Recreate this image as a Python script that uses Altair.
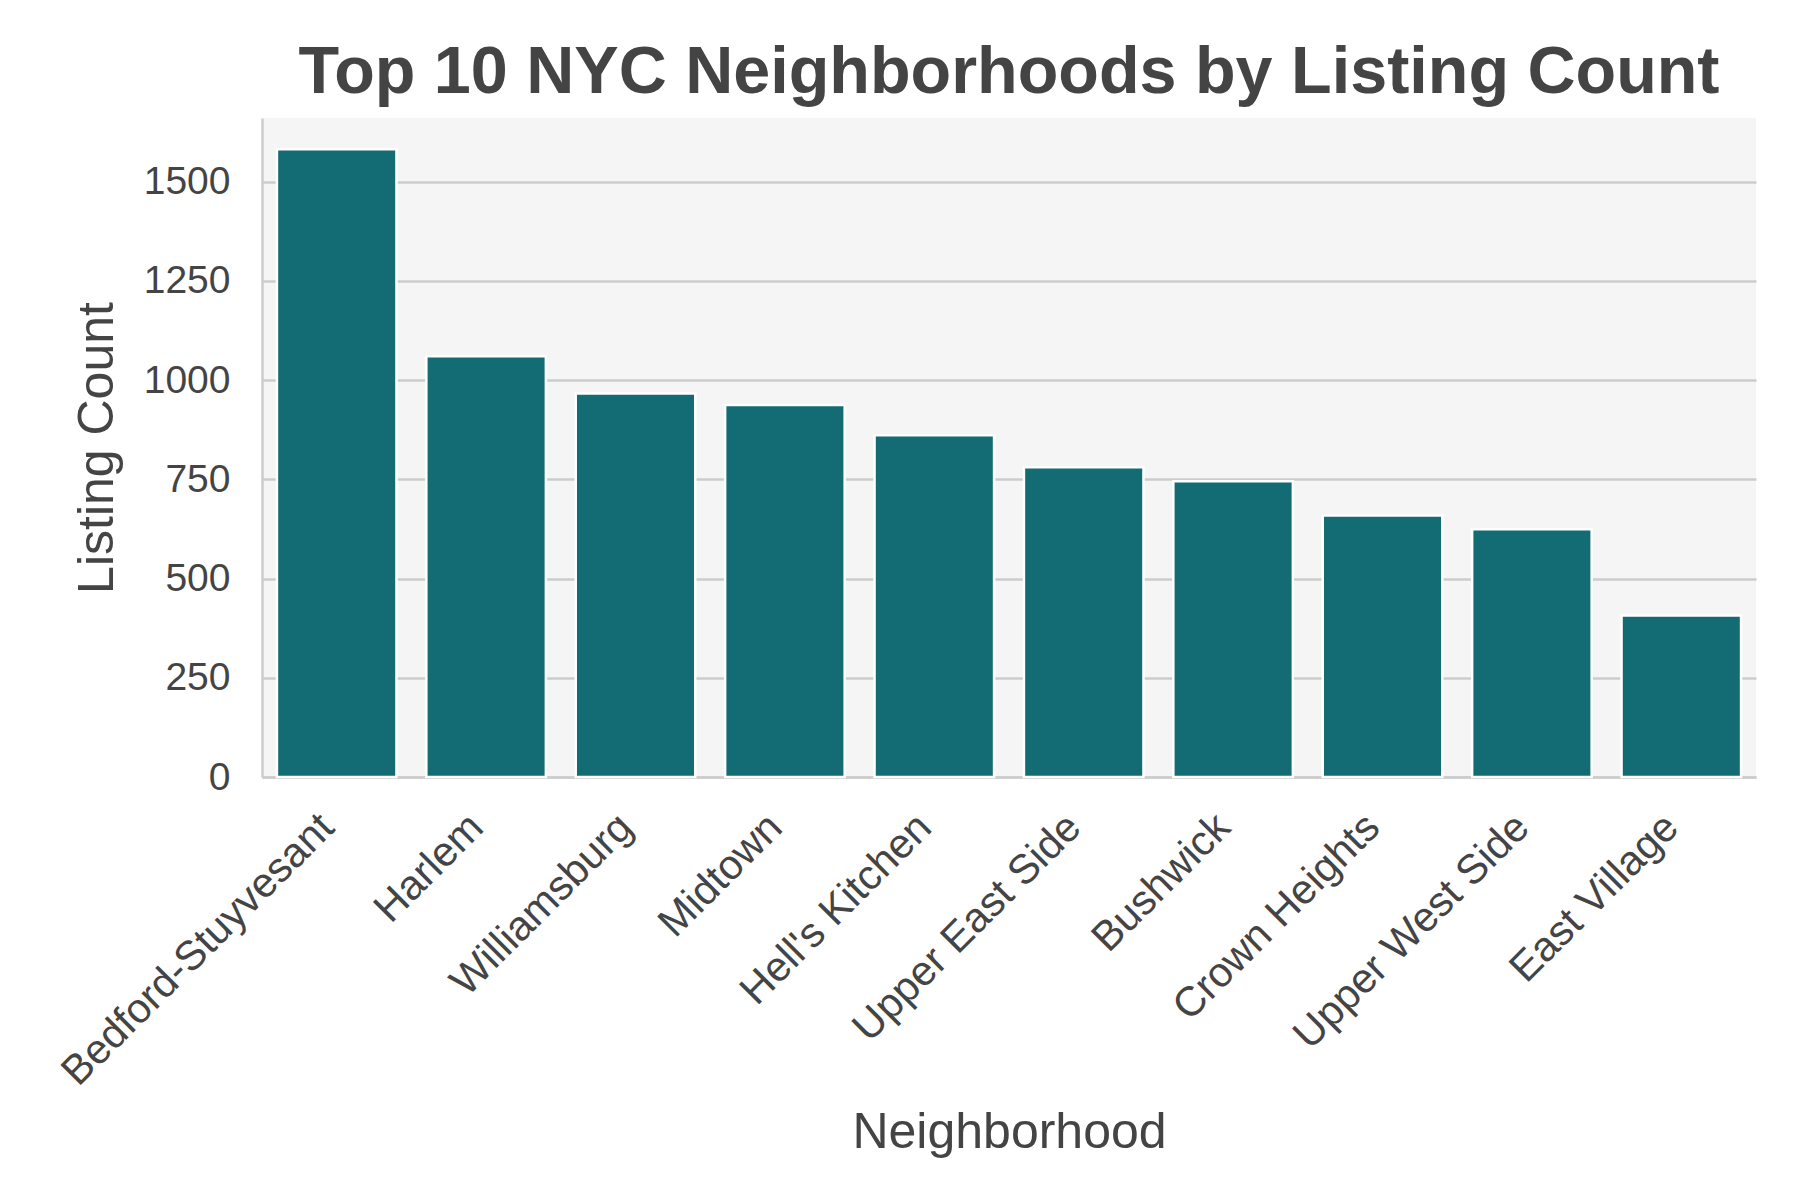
import altair as alt
import pandas as pd

neighborhoods = ["Bedford-Stuyvesant", "Harlem", "Williamsburg", "Midtown", "Hell's Kitchen",
                 "Upper East Side", "Bushwick", "Crown Heights", "Upper West Side", "East Village"]
listing_counts = [1581, 1060, 966, 937, 861, 780, 745, 659, 624, 407]
y_ticks = [0, 250, 500, 750, 1000, 1250, 1500]

df = pd.DataFrame({"Neighborhood": neighborhoods, "Listing Count": listing_counts})

FONT = "Liberation Sans"
TXT = "#444444"
GRID = "#cccccc"

chart = alt.Chart(df).mark_bar(
    color="#136b74", stroke="white", strokeWidth=2.5
).encode(
    x=alt.X("Neighborhood:N", sort=neighborhoods,
            scale=alt.Scale(paddingInner=0.2, paddingOuter=0.1),
            axis=alt.Axis(title="Neighborhood", labelAngle=-45, labelAlign="right",
                          labelBaseline="top", labelPadding=29, labelOffset=-24,
                          labelOverlap=False,
                          labelLimit=1000, ticks=False, grid=False,
                          labelFontSize=41.5, labelColor=TXT, labelFont=FONT,
                          titleFontSize=50, titleColor=TXT, titleFont=FONT,
                          titleFontWeight="normal", titleBaseline="alphabetic", titleY=370,
                          domainColor=GRID, domainWidth=2.5)),
    y=alt.Y("Listing Count:Q", scale=alt.Scale(domain=[0, 1660], nice=False),
            axis=alt.Axis(title="Listing Count", values=y_ticks, format="d", ticks=False,
                          labelPadding=32, labelFontSize=39, labelColor=TXT, labelFont=FONT,
                          titleFontSize=50, titleColor=TXT, titleFont=FONT,
                          titleFontWeight="normal", titleBaseline="alphabetic", titleX=-150,
                          titleAngle=-90,
                          grid=True, gridColor=GRID, gridWidth=2.5,
                          domainColor=GRID, domainWidth=2.5)),
).properties(
    width=1494,
    height=659,
    title=alt.TitleParams("Top 10 NYC Neighborhoods by Listing Count", font=FONT,
                          fontSize=66.5, fontWeight="bold", color=TXT, anchor="middle",
                          baseline="alphabetic", offset=-41),
    autosize=alt.AutoSizeParams(type="none"),
    padding={"left": 262, "top": 118, "right": 44, "bottom": 423},
    background="white",
).configure_view(fill="#f5f5f5", stroke=None)

chart.save("out.html", embed_options={"renderer": "svg", "actions": False})
